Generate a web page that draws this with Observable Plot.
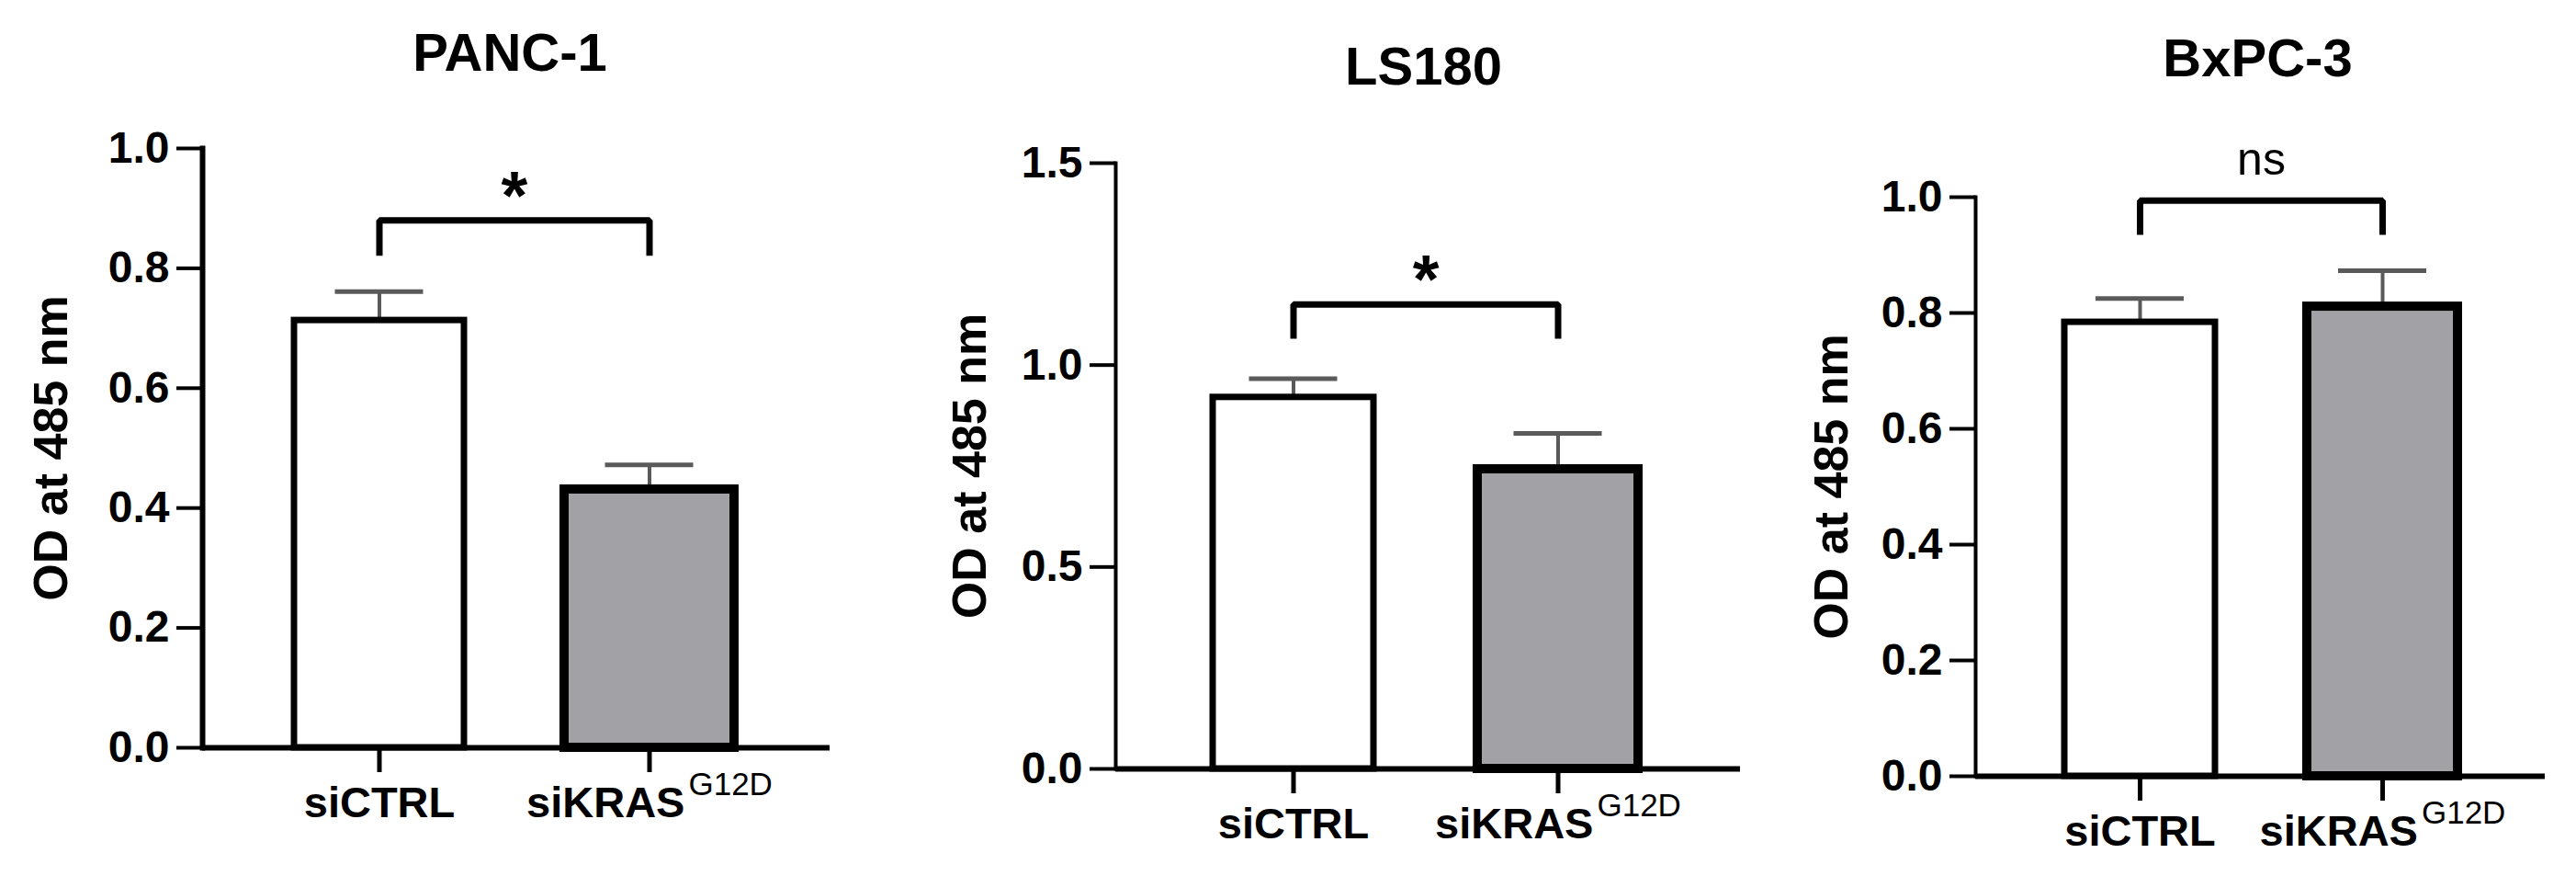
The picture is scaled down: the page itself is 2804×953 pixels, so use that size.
<!DOCTYPE html>
<html>
<head>
<meta charset="utf-8">
<script src="https://cdn.jsdelivr.net/npm/d3@7"></script>
<script src="https://cdn.jsdelivr.net/npm/@observablehq/plot@0.6"></script>
<style>
  body { margin: 0; background: #fff; }
  #wrap { position: relative; width: 2804px; height: 953px; overflow: hidden; background: #fff; }
  #wrap svg { position: absolute; top: 0; }
</style>
</head>
<body>
<div id="wrap"></div>
<script>
// ---------- data ----------
const cellLines = ["PANC-1", "LS180", "BxPC-3"];
const groups = ["siCTRL", "siKRAS"];
const groupSuperscripts = ["", "G12D"];
const yLabel = "OD at 485 nm";

const panc1Mean = [0.713, 0.431];
const panc1Err  = [0.048, 0.041];
const ls180Mean = [0.920, 0.742];
const ls180Err  = [0.046, 0.089];
const bxpc3Mean = [0.784, 0.811];
const bxpc3Err  = [0.041, 0.062];

const yDomainMax = [1.0, 1.5, 1.0];
const panc1Ticks = [0, 0.2, 0.4, 0.6, 0.8, 1.0];
const ls180Ticks = [0, 0.5, 1.0, 1.5];
const bxpc3Ticks = [0, 0.2, 0.4, 0.6, 0.8, 1.0];

const sigLabels  = ["*", "*", "ns"];
const bracketTop = [0.880, 1.150, 0.994];
const bracketLeg = [0.821, 1.065, 0.935];

// ---------- styles / layout ----------
const FONT = "'Liberation Sans', Arial, Helvetica, sans-serif";
const barFills = ["#ffffff", "#a2a2a6"];
const barStrokeWidths = [7, 10];
const ERR_COLOR = "#5a5a5a";
const CAP_WIDTH = 96;

const layout = [
  {left: 0,    width: 935, mt: 161, mb: 140, ml: 220, mr: 32, c: [412, 706],   bw: 185, yLineW: 6, titleDy: -85,  titleDx: -7, ylabDx: -164},
  {left: 935,  width: 960, mt: 177, mb: 117, ml: 279, mr: 1,  c: [472.5, 761], bw: 175, yLineW: 4, titleDy: -86,  titleDx: -5, ylabDx: -158},
  {left: 1895, width: 909, mt: 214, mb: 109, ml: 255, mr: 34, c: [434, 698],   bw: 164, yLineW: 4, titleDy: -132, titleDx: -3, ylabDx: -156}
];

const means = [panc1Mean, ls180Mean, bxpc3Mean];
const errs = [panc1Err, ls180Err, bxpc3Err];
const ticks = [panc1Ticks, ls180Ticks, bxpc3Ticks];

function panel(i) {
  const L = layout[i];
  const data = groups.map((g, j) => ({group: g, mean: means[i][j], err: errs[i][j]}));
  const step = L.c[1] - L.c[0];
  const pi = 1 - L.bw / step;
  const capInset = (L.bw - CAP_WIDTH) / 2;
  const bracket = [
    {group: groups[0], y: bracketLeg[i]},
    {group: groups[0], y: bracketTop[i]},
    {group: groups[1], y: bracketTop[i]},
    {group: groups[1], y: bracketLeg[i]}
  ];
  const isStar = sigLabels[i] === "*";

  const svg = Plot.plot({
    width: L.width,
    height: 953,
    marginTop: L.mt, marginBottom: L.mb, marginLeft: L.ml, marginRight: L.mr,
    style: {background: "transparent", overflow: "visible", fontFamily: FONT, fontWeight: "bold", fontSize: "48px", color: "#000"},
    x: {domain: groups, range: [L.c[0] - step / 2, L.c[1] + step / 2], paddingInner: pi, paddingOuter: pi / 2, align: 0.5, label: null},
    y: {domain: [0, yDomainMax[i]], label: null},
    marks: [
      Plot.ruleX(data, {x: "group", y1: "mean", y2: d => d.mean + d.err, stroke: ERR_COLOR, strokeWidth: 4}),
      Plot.tickY(data, {x: "group", y: d => d.mean + d.err, stroke: ERR_COLOR, strokeWidth: 5, insetLeft: capInset, insetRight: capInset}),
      Plot.barY(data.filter((d, j) => j === 0), {x: "group", y: "mean", fill: barFills[0], stroke: "#000", strokeWidth: barStrokeWidths[0]}),
      Plot.barY(data.filter((d, j) => j === 1), {x: "group", y: "mean", fill: barFills[1], stroke: "#000", strokeWidth: barStrokeWidths[1]}),
      Plot.frame({anchor: "left", strokeWidth: L.yLineW}),
      Plot.ruleY([0], {strokeWidth: 6}),
      Plot.axisY({ticks: ticks[i], tickFormat: d3.format(".1f"), tickSize: 28, tickPadding: 8, strokeWidth: 4, fontSize: 48, fontWeight: "bold", label: null}),
      Plot.axisX({tickSize: 27, tickPadding: 15, strokeWidth: 5, fontSize: 47, fontWeight: "bold", label: null}),
      Plot.line(bracket, {x: "group", y: "y", stroke: "#000", strokeWidth: 7, strokeLinejoin: "miter", strokeLinecap: "butt"}),
      Plot.text([sigLabels[i]], {
        x: [groups[0]], y: [bracketTop[i]], text: d => d, dx: step / 2,
        dy: isStar ? -2 : -28, lineAnchor: "bottom",
        fontSize: isStar ? 74 : 50, fontWeight: isStar ? "bold" : "normal"
      }),
      Plot.text([cellLines[i]], {frameAnchor: "top", dy: L.titleDy, dx: L.titleDx, lineAnchor: "bottom", fontSize: 58, fontWeight: "bold"}),
      Plot.text([yLabel], {frameAnchor: "left", rotate: -90, dx: L.ylabDx, textAnchor: "middle", lineAnchor: "middle", fontSize: 52, fontWeight: "bold"})
    ]
  });

  // superscripts on x tick labels
  svg.querySelectorAll('g[aria-label="x-axis tick label"] text').forEach(t => {
    const j = groups.indexOf(t.textContent.trim());
    if (j >= 0 && groupSuperscripts[j]) {
      const ts = document.createElementNS("http://www.w3.org/2000/svg", "tspan");
      ts.setAttribute("dx", "4");
      ts.setAttribute("dy", "-24");
      ts.setAttribute("font-size", "35");
      ts.setAttribute("font-weight", "normal");
      ts.textContent = groupSuperscripts[j];
      t.appendChild(ts);
    }
  });

  svg.style.left = L.left + "px";
  return svg;
}

const wrap = document.getElementById("wrap");
for (let i = 0; i < cellLines.length; i++) wrap.appendChild(panel(i));
</script>
</body>
</html>
